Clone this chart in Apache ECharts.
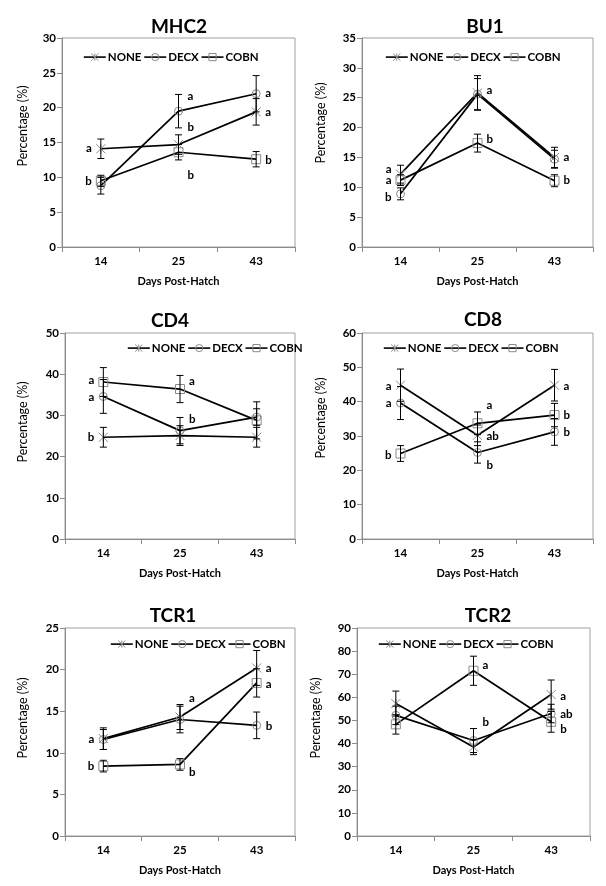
<!DOCTYPE html>
<html><head><meta charset="utf-8">
<script src="https://cdn.jsdelivr.net/npm/echarts@6/dist/echarts.min.js"></script>
<style>html,body{margin:0;padding:0;background:#fff}#c{width:606px;height:886px}</style>
</head><body><div id="c"></div>
<script>
// ---- data ----
const days = ['14', '25', '43'];
const seriesNames = ['NONE', 'DECX', 'COBN'];
const panelTitles = ['MHC2', 'BU1', 'CD4', 'CD8', 'TCR1', 'TCR2'];
const yAxisTitle = 'Percentage (%)';
const xAxisTitle = 'Days Post-Hatch';
const yMax = [30, 35, 50, 60, 25, 90];
const yStep = [5, 5, 10, 10, 5, 10];

const mhc2None = [14.1, 14.7, 19.4], mhc2NoneErr = [1.4, 1.4, 1.9];
const mhc2Decx = [8.8, 19.5, 22.0], mhc2DecxErr = [1.2, 2.4, 2.6];
const mhc2Cobn = [9.5, 13.6, 12.6], mhc2CobnErr = [0.8, 1.1, 1.1];
const mhc2Letters = [[0, 14.1, 'a', 'L'], [0, 9.5, 'b', 'L'], [1, 21.6, 'a', 'R'], [1, 17.2, 'b', 'R'], [1, 10.3, 'b', 'R'], [2, 22.0, 'a', 'R'], [2, 19.3, 'a', 'R'], [2, 12.5, 'b', 'R']];

const bu1None = [12.2, 25.8, 15.0], bu1NoneErr = [1.5, 2.9, 1.7];
const bu1Decx = [8.9, 25.6, 14.7], bu1DecxErr = [1.0, 2.6, 1.5];
const bu1Cobn = [11.2, 17.4, 11.1], bu1CobnErr = [0.9, 1.5, 1.0];
const bu1Letters = [[0, 13.0, 'a', 'L'], [0, 11.1, 'a', 'L'], [0, 8.4, 'b', 'L'], [1, 26.3, 'a', 'R'], [1, 18.1, 'b', 'R'], [2, 15.0, 'a', 'R'], [2, 11.1, 'b', 'R']];

const cd4None = [24.7, 25.1, 24.7], cd4NoneErr = [2.4, 2.4, 2.4];
const cd4Decx = [34.6, 26.3, 29.6], cd4DecxErr = [4.1, 3.2, 2.0];
const cd4Cobn = [38.1, 36.4, 28.8], cd4CobnErr = [3.5, 3.3, 4.5];
const cd4Letters = [[0, 38.6, 'a', 'L'], [0, 34.3, 'a', 'L'], [0, 24.7, 'b', 'L'], [1, 38.3, 'a', 'R'], [1, 29.0, 'b', 'R']];

const cd8None = [44.8, 30.2, 44.8], cd8NoneErr = [4.7, 3.0, 4.6];
const cd8Decx = [39.6, 25.2, 31.2], cd8DecxErr = [4.8, 3.1, 3.9];
const cd8Cobn = [24.9, 33.7, 36.1], cd8CobnErr = [2.3, 3.3, 3.4];
const cd8Letters = [[0, 44.6, 'a', 'L'], [0, 39.6, 'a', 'L'], [0, 24.3, 'b', 'L'], [1, 38.9, 'a', 'R'], [1, 29.8, 'ab', 'R'], [1, 21.5, 'b', 'R'], [2, 44.6, 'a', 'R'], [2, 35.9, 'b', 'R'], [2, 31.2, 'b', 'R']];

const tcr1None = [11.7, 14.3, 20.2], tcr1NoneErr = [1.3, 1.5, 2.1];
const tcr1Decx = [11.6, 14.0, 13.3], tcr1DecxErr = [1.2, 1.6, 1.6];
const tcr1Cobn = [8.4, 8.6, 18.4], tcr1CobnErr = [0.7, 0.7, 1.7];
const tcr1Letters = [[0, 11.6, 'a', 'L'], [0, 8.4, 'b', 'L'], [1, 16.5, 'a', 'R'], [1, 7.7, 'b', 'R'], [2, 20.1, 'a', 'R'], [2, 18.2, 'a', 'R'], [2, 13.2, 'b', 'R']];

const tcr2None = [57.3, 38.5, 61.2], tcr2NoneErr = [5.4, 3.3, 6.3];
const tcr2Decx = [52.2, 41.3, 53.0], tcr2DecxErr = [4.0, 5.2, 4.0];
const tcr2Cobn = [48.3, 71.5, 49.4], tcr2CobnErr = [4.2, 6.3, 4.5];
const tcr2Letters = [[1, 73.9, 'a', 'R'], [1, 49.1, 'b', 'R'], [2, 60.6, 'a', 'R'], [2, 52.7, 'ab', 'R'], [2, 46.1, 'b', 'R']];

const panelData = [
  { vals: [mhc2None, mhc2Decx, mhc2Cobn], errs: [mhc2NoneErr, mhc2DecxErr, mhc2CobnErr], letters: mhc2Letters },
  { vals: [bu1None, bu1Decx, bu1Cobn], errs: [bu1NoneErr, bu1DecxErr, bu1CobnErr], letters: bu1Letters },
  { vals: [cd4None, cd4Decx, cd4Cobn], errs: [cd4NoneErr, cd4DecxErr, cd4CobnErr], letters: cd4Letters },
  { vals: [cd8None, cd8Decx, cd8Cobn], errs: [cd8NoneErr, cd8DecxErr, cd8CobnErr], letters: cd8Letters },
  { vals: [tcr1None, tcr1Decx, tcr1Cobn], errs: [tcr1NoneErr, tcr1DecxErr, tcr1CobnErr], letters: tcr1Letters },
  { vals: [tcr2None, tcr2Decx, tcr2Cobn], errs: [tcr2NoneErr, tcr2DecxErr, tcr2CobnErr], letters: tcr2Letters }
];

// ---- layout ----
const FONT = 'Lato, "Open Sans", sans-serif';
const grids = [
  { left: 62, top: 38, width: 233, height: 209 },
  { left: 362, top: 38, width: 231, height: 209 },
  { left: 65, top: 333, width: 230, height: 206 },
  { left: 362, top: 333, width: 231, height: 206 },
  { left: 65, top: 628, width: 230, height: 208 },
  { left: 357, top: 628, width: 233, height: 208 }
];
const titlePos = [[174, 12], [480, 12], [165, 306], [478, 305], [168, 601], [483, 601]];
const legendPos = [[83, 51], [385, 51], [127, 342], [383, 342], [110, 638], [378, 638]];
const yNamePos = [[23, 126], [321, 123], [23, 422], [321, 418], [23, 718], [316, 718]];
const ySyms = {
  NONE: 'path://M0,0L10,10M10,0L0,10M5,0L5,10',
  DECX: 'circle',
  COBN: 'rect'
};
const symSize = { NONE: 9, DECX: 8, COBN: 9 };
const markerStyle = { color: 'none', borderColor: '#8a8a8a', borderWidth: 1 };

const option = {
  animation: false,
  backgroundColor: '#fff',
  textStyle: { fontFamily: FONT },
  title: [], legend: [], grid: [], xAxis: [], yAxis: [], series: [], graphic: []
};

function errRender(params, api) {
  const x = api.value(0), lo = api.value(1), hi = api.value(2);
  const a = api.coord([x, lo]), b = api.coord([x, hi]);
  const w = 3.5, st = { stroke: '#000', lineWidth: 1 };
  return { type: 'group', children: [
    { type: 'line', shape: { x1: a[0], y1: a[1], x2: b[0], y2: b[1] }, style: st },
    { type: 'line', shape: { x1: a[0] - w, y1: a[1], x2: a[0] + w, y2: a[1] }, style: st },
    { type: 'line', shape: { x1: b[0] - w, y1: b[1], x2: b[0] + w, y2: b[1] }, style: st }
  ] };
}

panelData.forEach((pd, i) => {
  const g = grids[i];
  option.grid.push(Object.assign({ show: true, borderColor: '#a0a0a0', borderWidth: 1, backgroundColor: 'transparent' }, g));
  option.title.push({
    text: panelTitles[i], left: titlePos[i][0], top: titlePos[i][1], textAlign: 'center',
    textStyle: { fontFamily: FONT, fontSize: 19, fontWeight: 'bold', color: '#000' }
  });
  option.legend.push({
    data: seriesNames, left: legendPos[i][0], top: legendPos[i][1], padding: 0,
    itemWidth: 22, itemHeight: 9, itemGap: 2,
    itemStyle: markerStyle,
    lineStyle: { color: '#000', width: 1.6 },
    formatter: '{b|{name}}',
    textStyle: {
      fontFamily: FONT, fontSize: 11.5, fontWeight: 'bold', color: '#000', padding: [0, 0, 0, -3],
      rich: { b: { fontFamily: FONT, fontSize: 11.5, fontWeight: 'bold', color: '#000' } }
    },
    selectedMode: false
  });
  option.graphic.push({
    type: 'text', x: yNamePos[i][0], y: yNamePos[i][1], rotation: Math.PI / 2,
    style: { text: yAxisTitle, font: '12.5px ' + FONT, fill: '#000', align: 'center', verticalAlign: 'middle' }
  });
  option.xAxis.push({
    type: 'category', gridIndex: i, data: days, boundaryGap: true,
    name: xAxisTitle, nameLocation: 'middle', nameGap: 29,
    nameTextStyle: { fontFamily: FONT, fontSize: 11, fontWeight: 'bold', color: '#000' },
    axisLine: { lineStyle: { color: '#8c8c8c', width: 1 } },
    axisTick: { show: true, alignWithLabel: false, length: 5, lineStyle: { color: '#8c8c8c' } },
    axisLabel: { fontFamily: FONT, fontSize: 11.5, fontWeight: 'bold', color: '#000', margin: 8 },
    splitLine: { show: false }
  });
  option.yAxis.push({
    type: 'value', gridIndex: i, min: 0, max: yMax[i], interval: yStep[i],
    axisLine: { show: true, lineStyle: { color: '#8c8c8c', width: 1 } },
    axisTick: { show: true, length: 5, lineStyle: { color: '#8c8c8c' } },
    axisLabel: { fontFamily: FONT, fontSize: 11.5, fontWeight: 'bold', color: '#000', margin: 6 },
    splitLine: { show: false }
  });
  seriesNames.forEach((nm, k) => {
    option.series.push({
      type: 'line', name: nm, xAxisIndex: i, yAxisIndex: i,
      data: pd.vals[k], symbol: ySyms[nm], symbolSize: symSize[nm], showSymbol: true,
      lineStyle: { color: '#000', width: 1.7 },
      itemStyle: markerStyle,
      z: 3
    });
    option.series.push({
      type: 'custom', name: nm + ' err', xAxisIndex: i, yAxisIndex: i,
      data: pd.vals[k].map((v, j) => [j, v - pd.errs[k][j], v + pd.errs[k][j]]),
      encode: { x: 0, y: [1, 2] },
      renderItem: errRender, z: 4, silent: true
    });
  });
  const L = pd.letters;
  option.series.push({
    type: 'custom', name: 'letters' + i, xAxisIndex: i, yAxisIndex: i,
    data: L.map(d => [d[0], d[1]]),
    encode: { x: 0, y: 1 },
    z: 5, silent: true,
    renderItem: function (params, api) {
      const d = L[params.dataIndex];
      const p = api.coord([d[0], d[1]]);
      const right = d[3] === 'R';
      return {
        type: 'text', x: p[0] + (right ? 9 : -9), y: p[1],
        style: {
          text: d[2], fill: '#000', font: 'bold 11.5px ' + FONT,
          align: right ? 'left' : 'right', verticalAlign: 'middle'
        }
      };
    }
  });
});

const chart = echarts.init(document.getElementById('c'), null, { renderer: 'canvas' });
chart.setOption(option);
</script>
</body></html>
